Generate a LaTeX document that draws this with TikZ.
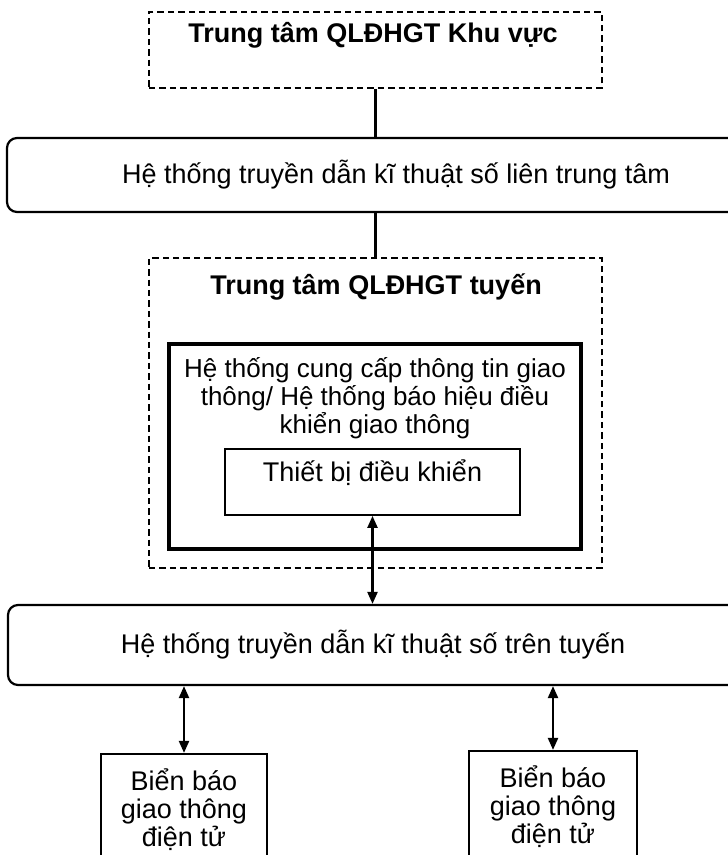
\documentclass[tikz,border=0pt]{standalone}
\usepackage{fontspec}
\setmainfont{Liberation Sans}
\usetikzlibrary{positioning,arrows.meta}

\begin{document}
\begin{tikzpicture}[x=0.5pt,y=-0.5pt,
    txt/.style = {font=\fontsize{13.5}{14}\selectfont, align=center, inner sep=0pt},
    titletxt/.style = {txt, font=\fontsize{13.5}{14}\selectfont\bfseries},
    dashbox/.style = {draw=black, line width=1.2pt, dash pattern=on 3.2pt off 2pt},
    roundbox/.style = {txt, draw=black, line width=1.1pt, rounded corners=5pt},
    signbox/.style = {txt, draw=black, line width=1.1pt},
    link/.style = {draw=black, line width=1.1pt},
    biarrow/.style = {link, {Triangle[length=6pt,width=5pt]}-{Triangle[length=6pt,width=5pt]}}]
     \useasboundingbox (0,0) rectangle (727,855);
     % trung tam khu vuc
     \node[dashbox, minimum width=226.5pt, minimum height=38pt] (khuvuc) at (375.5,50) {};
     \node[titletxt, anchor=base] (khuvuctxt) at (373,43) {Trung tâm QLĐHGT Khu vực};
     \node[roundbox, minimum width=389pt, minimum height=37pt] (lientt) at (396,175) {Hệ thống truyền dẫn kĩ thuật số liên trung tâm};
     % trung tam tuyen
     \node[dashbox, minimum width=226.5pt, minimum height=155pt] (tuyen) at (375.5,413) {};
     \node[titletxt, anchor=base] (tuyentxt) at (376,294) {Trung tâm QLĐHGT tuyến};
     \node[draw=black, line width=1.7pt, minimum width=206pt, minimum height=102.5pt] (cungcap) at (375,446.5) {};
     \node[txt, font=\fontsize{13}{14}\selectfont] (cungcaptxt) at (375,398) {Hệ thống cung cấp thông tin giao\\thông/ Hệ thống báo hiệu điều\\khiển giao thông};
     \node[draw=black, line width=0.9pt, minimum width=147.5pt, minimum height=33pt] (thietbi) at (372.5,482) {};
     \node[txt, anchor=base] (thietbitxt) at (372.5,481) {Thiết bị điều khiển};
     % tren tuyen
     \node[roundbox, minimum width=365pt, minimum height=40pt] (trentuyen) at (373,645) {Hệ thống truyền dẫn kĩ thuật số trên tuyến};
     \node[signbox, minimum width=83pt, minimum height=56pt] (bien1) at (184,810) {Biển báo\\giao thông\\điện tử};
     \node[signbox, minimum width=84pt, minimum height=56pt] (bien2) at (553,807) {Biển báo\\giao thông\\điện tử};

     \draw[link] (khuvuc.south) -- (khuvuc.south |- lientt.north);
     \draw[link] (khuvuc.south |- lientt.south) -- (tuyen.north);
     \draw[biarrow] (thietbi.south) -- (thietbi.south |- trentuyen.north);
     \draw[biarrow] (bien1.north |- trentuyen.south) -- (bien1.north);
     \draw[biarrow] (bien2.north |- trentuyen.south) -- (bien2.north);
\end{tikzpicture}
\end{document}
